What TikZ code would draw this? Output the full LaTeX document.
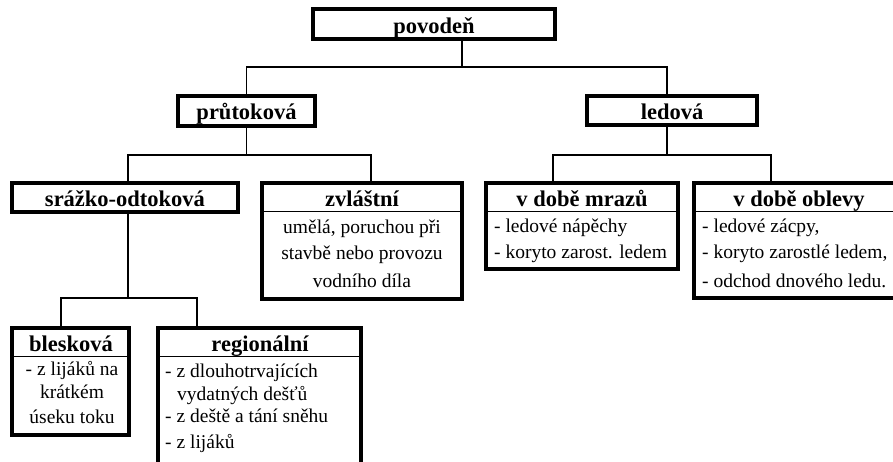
\documentclass[tikz,border=0pt]{standalone}
\usepackage{fontspec}
\setmainfont{Liberation Serif}
\begin{document}
\begin{tikzpicture}[x=1pt,y=-1pt,
  box/.style={draw, line width=3.2pt, inner sep=0pt, outer sep=0pt},
  conn/.style={line width=1.5pt},
  divl/.style={line width=1pt},
  ttl/.style={font=\fontsize{22.5}{26}\selectfont\bfseries, inner sep=0pt, anchor=base},
  bdy/.style={font=\fontsize{19.5}{24}\selectfont, inner sep=0pt},
  bdyc/.style={bdy, anchor=base},
  bdyl/.style={bdy, anchor=base west},
]
\useasboundingbox (0,0) rectangle (893,461);
\clip (0,0) rectangle (893,461);
\fill[white] (0,0) rectangle (893,461);

% boxes
\node[box, minimum width=242pt, minimum height=30pt] (povoden) at (434,24) {};
\node[box, minimum width=137pt, minimum height=30pt] (prut) at (246.5,111) {};
\node[box, minimum width=170pt, minimum height=29pt] (led) at (672,110.5) {};
\node[box, minimum width=226pt, minimum height=29pt] (sr) at (125,197.5) {};
\node[box, minimum width=200pt, minimum height=116pt] (zv) at (362,241) {};
\node[box, minimum width=192pt, minimum height=86pt] (mr) at (582,226) {};
\node[box, minimum width=211pt, minimum height=115pt] (ob) at (799.5,240.5) {};
\node[box, minimum width=117pt, minimum height=107pt] (bl) at (70.5,381.5) {};
\node[box, minimum width=203pt, minimum height=150pt] (rg) at (259.5,403) {};

% dividers
\draw[divl] (262,211) -- (462,211);
\draw[divl] (486,211) -- (678,211);
\draw[divl] (694,211) -- (904,211);
\draw[divl] (12,356) -- (129,356);
\draw[divl] (158,356) -- (361,356);

% junction coordinates
\coordinate (h0) at (462,67);
\coordinate (h1) at (247,155);
\coordinate (h2) at (667,155);
\coordinate (h3) at (128,298);
\coordinate (xzv) at (371,0);
\coordinate (xmr) at (553,0);
\coordinate (xob) at (771,0);
\coordinate (xbl) at (61,0);
\coordinate (xrg) at (197,0);

% connectors
\draw[conn] (povoden.south -| h0) -- (h0);
\draw[conn] (prut.north) |- (h0) -| (led.north -| h2);
\draw[conn] (prut.south) -- (prut.south |- h1);
\draw[conn] (sr.north -| h3) |- (h1) -| (zv.north -| xzv);
\draw[conn] (led.south -| h2) -- (h2);
\draw[conn] (mr.north -| xmr) |- (h2) -| (ob.north -| xob);
\draw[conn] (sr.south -| h3) -- (h3);
\draw[conn] (bl.north -| xbl) |- (h3) -| (rg.north -| xrg);

% titles
\node[ttl] (t0) at (434,33) {povodeň};
\node[ttl] (t1) at (246.5,119) {průtoková};
\node[ttl] (t2) at (672,119) {ledová};
\node[ttl] (t3) at (125,206) {srážko-odtoková};
\node[ttl] (t4) at (362,206) {zvláštní};
\node[ttl] (t5) at (582,206) {v době mrazů};
\node[ttl] (t6) at (799,206) {v době oblevy};
\node[ttl] (t7) at (71,351) {blesková};
\node[ttl] (t8) at (260,351) {regionální};

% zvláštní body
\node[bdyc] (z1) at (362,233) {umělá, poruchou při};
\node[bdyc] (z2) at (362,259) {stavbě nebo provozu};
\node[bdyc] (z3) at (362,287) {vodního díla};

% v době mrazů body
\node[bdyl] (m1) at (494,232) {- ledové nápěchy};
\node[bdyl] (m2) at (494,258) {- koryto zarost. ledem};

% v době oblevy body
\node[bdyl] (o1) at (702,232) {- ledové zácpy,};
\node[bdyl] (o2) at (702,258) {- koryto zarostlé ledem,};
\node[bdyl] (o3) at (702,287) {- odchod dnového ledu.};

% blesková body
\node[bdyc] (b1) at (72,375) {- z lijáků na};
\node[bdyc] (b2) at (72,398) {krátkém};
\node[bdyc] (b3) at (72,423) {úseku toku};

% regionální body
\node[bdyl] (r1) at (165,377) {- z dlouhotrvajících};
\node[bdyl] (r2) at (177,400) {vydatných dešťů};
\node[bdyl] (r3) at (165,422) {- z deště a tání sněhu};
\node[bdyl] (r4) at (165,448) {- z lijáků};
\end{tikzpicture}
\end{document}
